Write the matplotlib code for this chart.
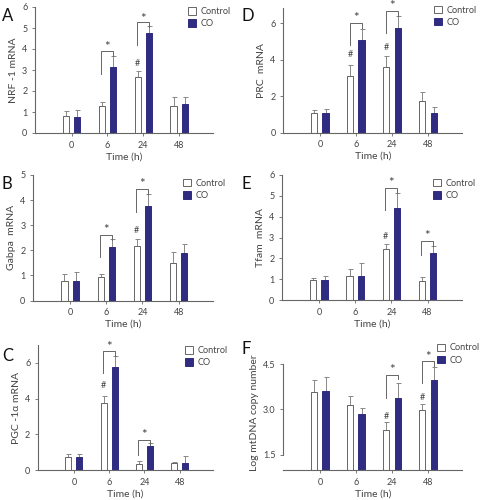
import matplotlib
matplotlib.use("Agg")
import matplotlib.pyplot as plt
import numpy as np

plt.rcParams['font.family'] = ['Lato', 'DejaVu Sans']

times = ["0", "6", "24", "48"]
series_names = ["Control", "CO"]

# A: NRF-1
nrf1_ctrl = [0.79, 1.30, 2.67, 1.30]
nrf1_ctrl_err = [0.27, 0.20, 0.30, 0.41]
nrf1_co = [0.76, 3.13, 4.76, 1.40]
nrf1_co_err = [0.34, 0.52, 0.34, 0.31]

# B: Gabpa
gabpa_ctrl = [0.76, 0.93, 2.16, 1.51]
gabpa_ctrl_err = [0.29, 0.14, 0.29, 0.41]
gabpa_co = [0.76, 2.15, 3.78, 1.90]
gabpa_co_err = [0.37, 0.30, 0.45, 0.34]

# C: PGC-1a
pgc_ctrl = [0.72, 3.76, 0.35, 0.42]
pgc_ctrl_err = [0.16, 0.41, 0.15, 0.02]
pgc_co = [0.72, 5.76, 1.32, 0.42]
pgc_co_err = [0.16, 0.61, 0.22, 0.37]

# D: PRC
prc_ctrl = [1.06, 3.10, 3.62, 1.76]
prc_ctrl_err = [0.18, 0.64, 0.60, 0.45]
prc_co = [1.10, 5.10, 5.76, 1.06]
prc_co_err = [0.20, 0.62, 0.64, 0.33]

# E: Tfam
tfam_ctrl = [0.96, 1.17, 2.43, 0.91]
tfam_ctrl_err = [0.11, 0.32, 0.26, 0.18]
tfam_co = [0.96, 1.15, 4.43, 2.27]
tfam_co_err = [0.21, 0.61, 0.69, 0.33]

# F: log mtDNA copy number
mtdna_ctrl = [3.57, 3.14, 2.33, 2.98]
mtdna_ctrl_err = [0.42, 0.29, 0.24, 0.20]
mtdna_co = [3.60, 2.84, 3.38, 3.97]
mtdna_co_err = [0.46, 0.21, 0.51, 0.43]

CO_COLOR = "#2f2c82"
GRAY = "#666666"
TEXT = "#444444"

# panel: letter, ylabel, data, axes rect, ylim, yticks, legend anchor,
# brackets (group, top, left bottom, star y), hashes (group, y)
panels = [
    dict(letter="A", ylabel="NRF -1 mRNA", ctrl=nrf1_ctrl, ctrl_err=nrf1_ctrl_err,
         co=nrf1_co, co_err=nrf1_co_err, rect=[0.073, 0.734, 0.371, 0.252],
         ylim=(0, 6), yticks=[0, 1, 2, 3, 4, 5, 6], ylabels=None, leg=(0.86, 1.0),
         brackets=[(1, 3.92, 2.83, 4.1), (2, 5.27, 4.2, 5.45)], hashes=[(2, 3.3)],
         letter_xy=(0.004, 0.968)),
    dict(letter="B", ylabel="Gabpa  mRNA", ctrl=gabpa_ctrl, ctrl_err=gabpa_ctrl_err,
         co=gabpa_co, co_err=gabpa_co_err, rect=[0.069, 0.399, 0.375, 0.251],
         ylim=(0, 5), yticks=[0, 1, 2, 3, 4, 5], ylabels=None, leg=(0.83, 0.97),
         brackets=[(1, 2.61, 1.72, 2.8), (2, 4.44, 3.51, 4.63)], hashes=[(2, 2.78)],
         letter_xy=(0.004, 0.632)),
    dict(letter="C", ylabel="PGC -1α mRNA", ctrl=pgc_ctrl, ctrl_err=pgc_ctrl_err,
         co=pgc_co, co_err=pgc_co_err, rect=[0.079, 0.060, 0.365, 0.250],
         ylim=(0, 7), yticks=[0, 2, 4, 6], ylabels=None, leg=(0.84, 0.99),
         brackets=[(1, 6.64, 5.41, 6.9), (2, 1.69, 0.86, 1.98)], hashes=[(1, 4.75)],
         letter_xy=(0.004, 0.288)),
    dict(letter="D", ylabel="PRC  mRNA", ctrl=prc_ctrl, ctrl_err=prc_ctrl_err,
         co=prc_co, co_err=prc_co_err, rect=[0.590, 0.735, 0.373, 0.249],
         ylim=(0, 6.85), yticks=[0, 2, 4, 6], ylabels=None, leg=(0.84, 1.02),
         brackets=[(1, 6.0, 4.8, 6.28), (2, 6.69, 5.45, 6.97)], hashes=[(1, 4.3), (2, 4.7)],
         letter_xy=(0.504, 0.968)),
    dict(letter="E", ylabel="Tfam  mRNA", ctrl=tfam_ctrl, ctrl_err=tfam_ctrl_err,
         co=tfam_co, co_err=tfam_co_err, rect=[0.5875, 0.400, 0.375, 0.250],
         ylim=(0, 6), yticks=[0, 1, 2, 3, 4, 5, 6], ylabels=None, leg=(0.84, 0.97),
         brackets=[(2, 5.39, 4.32, 5.63), (3, 2.83, 2.16, 3.07)], hashes=[(2, 3.05)],
         letter_xy=(0.504, 0.632)),
    dict(letter="F", ylabel="Log mtDNA copy number", ctrl=mtdna_ctrl, ctrl_err=mtdna_ctrl_err,
         co=mtdna_co, co_err=mtdna_co_err, rect=[0.590, 0.060, 0.373, 0.2300],
         ylim=(1.0, 4.8), yticks=[1.5, 3.0, 4.5], ylabels=["1.5", "3.0", "4.5"], leg=(0.86, 1.10),
         brackets=[(2, 4.15, 3.38, 4.31), (3, 4.59, 3.88, 4.75)], hashes=[(2, 2.78), (3, 3.41)],
         letter_xy=(0.504, 0.302)),
]

fig = plt.figure(figsize=(4.8, 5.0), dpi=100)
x = np.arange(len(times))
off = 0.155
w = 0.17

for p in panels:
    ax = fig.add_axes(p["rect"])
    ax.bar(x - off, p["ctrl"], w, color="white", edgecolor=GRAY, linewidth=0.7, label=series_names[0], zorder=2)
    ax.bar(x + off, p["co"], w, color=CO_COLOR, edgecolor=CO_COLOR, linewidth=0.7, label=series_names[1], zorder=2)
    ax.errorbar(x - off, p["ctrl"], yerr=[np.zeros(4), p["ctrl_err"]], fmt="none",
                ecolor="#888888", elinewidth=0.7, capsize=1.8, capthick=0.7, zorder=1)
    ax.errorbar(x + off, p["co"], yerr=[np.zeros(4), p["co_err"]], fmt="none",
                ecolor="#888888", elinewidth=0.7, capsize=1.8, capthick=0.7, zorder=1)

    ax.set_xlim(-1.02, 3.95)
    ax.set_ylim(*p["ylim"])
    ax.set_xticks(x)
    ax.set_xticklabels(times)
    ax.set_yticks(p["yticks"])
    if p["ylabels"]:
        ax.set_yticklabels(p["ylabels"])
    for s in ["top", "right"]:
        ax.spines[s].set_visible(False)
    for s in ["left", "bottom"]:
        ax.spines[s].set_color(GRAY)
        ax.spines[s].set_linewidth(0.8)
    if p["letter"] == "F":
        ax.spines["left"].set_bounds(1.5, 4.5)
    ax.tick_params(axis="both", colors=GRAY, labelcolor=TEXT, labelsize=6.5, length=2, width=0.6, pad=3.5)
    ax.set_xlabel("Time (h)", fontsize=7.5, color=TEXT, labelpad=2)
    ax.set_ylabel(p["ylabel"], fontsize=7.5, color=TEXT, labelpad=3)

    rng = p["ylim"][1] - p["ylim"][0]
    for g, top, lb, sy in p["brackets"]:
        xl, xr = g - off - 0.02, g + off
        ax.plot([xl, xl, xr, xr], [lb, top, top, top - 0.04 * rng], color=GRAY,
                lw=0.7, clip_on=False)
        ax.text((xl + xr) / 2, sy, "*", ha="center", va="center", fontsize=9.5,
                color=TEXT, clip_on=False)
    for g, hy in p["hashes"]:
        ax.text(g - off, hy, "#", ha="center", va="center", fontsize=6.5, color=TEXT)

    leg = ax.legend(loc="upper left", bbox_to_anchor=p["leg"], frameon=False, fontsize=6.6,
                    handlelength=0.9, handleheight=0.9, handletextpad=0.5, labelspacing=0.35,
                    borderpad=0, borderaxespad=0)
    for t in leg.get_texts():
        t.set_color(TEXT)

    fig.text(p["letter_xy"][0], p["letter_xy"][1], p["letter"], fontsize=12, color="#111111",
             ha="left", va="center")

fig.savefig("out.png", dpi=100)
